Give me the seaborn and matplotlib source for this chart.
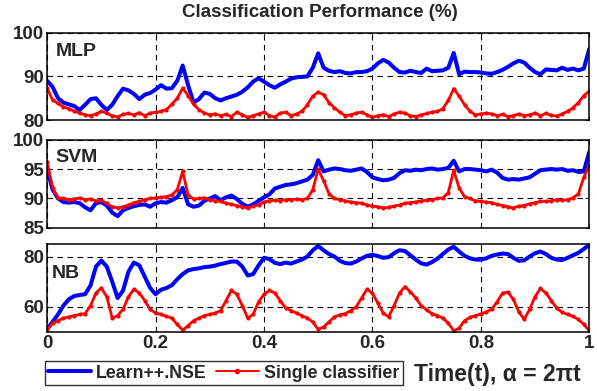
import numpy as np
import pandas as pd
import seaborn as sns
import matplotlib.pyplot as plt
from matplotlib.lines import Line2D

# time axis (101 samples from 0 to 1)
time = np.linspace(0, 1, 101)

mlp_nse = [89.0, 87.6, 85.0, 84.0, 83.6, 83.2, 82.3, 83.5, 84.8, 85.0,
           83.5, 82.3, 83.5, 85.5, 87.2, 86.8, 86.0, 84.8, 85.8, 86.2,
           87.0, 88.0, 87.2, 87.3, 89.0, 92.5, 88.0, 84.0, 84.8, 86.3,
           86.0, 85.0, 84.5, 85.0, 85.4, 85.8, 86.5, 87.5, 88.8, 89.6,
           88.8, 88.0, 87.4, 88.2, 88.8, 89.5, 89.8, 89.9, 90.0, 92.0,
           95.3, 92.0, 91.3, 91.0, 91.2, 90.8, 90.7, 91.0, 91.0, 91.2,
           91.8, 93.0, 93.8, 93.2, 92.0, 91.0, 90.9, 91.3, 91.0, 90.8,
           91.8, 91.2, 91.3, 91.4, 92.0, 95.4, 90.5, 91.1, 91.0, 91.0,
           90.9, 90.7, 90.6, 91.0, 91.5, 92.2, 93.0, 93.6, 93.2, 92.0,
           91.0, 90.5, 91.6, 91.5, 91.4, 92.0, 91.5, 91.8, 91.4, 91.8, 96.3]
mlp_single = [87.3, 84.6, 83.8, 83.0, 82.6, 82.0, 81.6, 81.2, 81.0, 81.4,
              82.0, 81.6, 81.0, 80.7, 81.3, 81.5, 81.2, 81.7, 81.0, 81.6,
              81.8, 82.0, 82.4, 83.6, 85.0, 87.3, 85.6, 83.6, 82.4, 81.6,
              81.2, 81.4, 81.0, 81.3, 80.8, 81.8, 81.2, 80.6, 81.0, 81.4,
              81.8, 81.0, 80.7, 81.6, 81.8, 81.0, 81.4, 82.0, 83.5, 85.5,
              86.4, 85.8, 84.0, 82.8, 81.8, 81.0, 81.2, 81.6, 81.8, 81.2,
              80.6, 81.0, 81.2, 80.8, 81.4, 81.8, 81.6, 81.0, 80.8, 81.2,
              81.5, 81.8, 82.0, 82.6, 84.5, 87.2, 85.5, 83.5, 82.0, 81.2,
              81.4, 81.6, 81.4, 81.0, 81.3, 80.8, 81.0, 81.4, 81.0, 81.2,
              81.6, 81.0, 81.5, 81.1, 80.9, 81.4, 82.0, 82.8, 84.0, 85.6, 86.6]

svm_nse = [95.0, 91.5, 90.0, 89.4, 89.3, 89.4, 89.2, 88.5, 88.0, 89.2,
           89.4, 88.8, 87.6, 87.0, 88.0, 88.4, 88.7, 88.9, 89.0, 88.6,
           89.2, 89.4, 89.3, 89.7, 90.2, 91.8, 89.0, 88.6, 88.8, 89.6,
           90.0, 90.4, 89.7, 90.2, 90.5, 89.9, 89.1, 88.6, 89.0, 89.6,
           90.2, 90.7, 91.7, 92.0, 92.3, 92.4, 92.6, 92.9, 93.2, 94.0,
           96.5, 94.6, 94.9, 95.1, 95.0, 94.8, 94.7, 94.9, 95.1, 94.5,
           93.6, 93.3, 93.1, 93.2, 93.5, 94.3, 94.8, 94.7, 94.9, 94.8,
           95.0, 95.1, 94.9, 95.0, 95.2, 96.4, 94.6, 95.0, 95.0, 94.9,
           94.8, 94.6, 94.9, 94.4, 93.5, 93.2, 93.3, 93.2, 93.4, 93.6,
           94.2, 94.8, 94.9, 95.0, 94.9, 95.0, 94.7, 94.8, 94.5, 94.6, 97.9]
svm_single = [96.2, 91.8, 90.1, 90.0, 89.8, 89.9, 90.1, 89.8, 89.9, 89.6,
              89.7, 89.2, 88.6, 88.4, 88.6, 88.9, 89.3, 89.5, 89.8, 90.0,
              90.1, 90.2, 90.3, 90.6, 91.5, 94.6, 90.6, 89.9, 90.0, 90.1,
              89.8, 89.6, 89.5, 89.2, 89.0, 88.8, 88.6, 88.4, 88.7, 88.9,
              89.4, 89.6, 89.7, 89.6, 89.8, 89.8, 89.9, 89.8, 90.0, 91.5,
              95.0, 93.0, 90.8, 90.0, 89.8, 89.6, 89.4, 89.3, 89.2, 88.9,
              88.7, 88.6, 88.4, 88.5, 88.7, 88.9, 89.2, 89.3, 89.4, 89.6,
              89.7, 89.8, 90.0, 90.1, 91.0, 94.8, 91.8, 90.3, 90.0, 89.6,
              89.5, 89.4, 89.3, 89.0, 88.8, 88.6, 88.4, 88.7, 88.8, 89.1,
              89.3, 89.5, 89.5, 89.6, 89.8, 89.7, 89.8, 90.1, 90.8, 93.6, 95.6]

nb_nse = [51.3, 54.0, 57.0, 60.5, 63.0, 64.3, 64.7, 65.0, 68.5, 76.0,
          78.4, 76.0, 70.0, 63.5, 66.5, 74.0, 77.6, 76.5, 72.0, 67.5,
          65.0, 66.8, 67.5, 68.6, 71.0, 73.0, 74.5, 75.0, 75.3, 75.8,
          76.0, 76.4, 77.0, 77.5, 78.0, 78.0, 76.0, 72.5, 73.0, 76.5,
          79.5, 79.0, 77.5, 77.0, 77.6, 77.2, 78.0, 78.8, 80.0, 82.5,
          84.2, 82.5, 81.0, 80.0, 78.3, 77.4, 77.2, 78.0, 79.2, 80.3,
          80.7, 80.2, 79.5, 79.8, 81.3, 82.5, 82.2, 80.5, 78.8, 77.3,
          76.8, 77.8, 79.2, 81.0, 82.8, 83.9, 82.0, 80.3, 79.3, 78.8,
          78.8, 79.3, 80.3, 80.8, 81.2, 81.0, 79.5, 78.3, 78.5, 80.0,
          81.3, 82.0, 81.0, 79.5, 78.8, 78.6, 79.5, 80.5, 81.5, 83.0, 84.7]
nb_single = [50.7, 53.5, 54.5, 55.5, 56.0, 56.5, 57.0, 57.3, 60.5, 65.5,
             67.5, 64.0, 55.5, 56.5, 59.0, 64.0, 67.0, 65.5, 62.5, 59.0,
             57.5, 57.0, 56.2, 55.5, 53.0, 50.7, 52.5, 54.5, 55.5, 56.5,
             57.0, 57.5, 58.5, 62.5, 66.5, 65.0, 60.5, 55.5, 57.0, 62.0,
             65.0, 66.5, 65.5, 62.5, 59.5, 58.5, 57.5, 56.5, 55.5, 54.0,
             51.0, 52.0, 54.0, 56.0, 56.8, 57.3, 58.5, 60.0, 63.5, 67.0,
             65.5, 61.5, 57.5, 56.0, 60.5, 65.5, 68.0, 66.0, 63.5, 60.5,
             58.8, 57.3, 56.5, 55.5, 53.5, 50.5, 51.5, 54.5, 55.8, 56.5,
             57.2, 58.0, 59.0, 62.0, 65.5, 65.8, 63.0, 58.0, 55.0, 59.0,
             64.0, 67.3, 65.5, 62.5, 59.5, 57.8, 57.0, 56.2, 55.0, 53.0, 50.5]

panel_names = ["MLP", "SVM", "NB"]
panel_ylims = [(80, 100), (85, 100), (50, 85)]
panel_yticks = [[80, 90, 100], [85, 90, 95, 100], [60, 80]]
x_ticks = [0, 0.2, 0.4, 0.6, 0.8, 1]
x_ticklabels = ["0", "0.2", "0.4", "0.6", "0.8", "1"]

sns.set_style("ticks")
plt.rcParams['font.family'] = ['Liberation Sans', 'DejaVu Sans']
plt.rcParams['font.weight'] = 'bold'

fig = plt.figure(figsize=(5.97, 3.91), dpi=100)

# axes boxes in figure fractions: [left, bottom, width, height]
boxes = [[0.079, 0.693, 0.908, 0.223],
         [0.079, 0.417, 0.908, 0.226],
         [0.079, 0.151, 0.908, 0.225]]
label_pos = [(0.015, 0.79), (0.015, 0.80), (0.008, 0.66)]

series = [(mlp_nse, mlp_single), (svm_nse, svm_single), (nb_nse, nb_single)]

for i, (nse, single) in enumerate(series):
    ax = fig.add_axes(boxes[i])
    df = pd.DataFrame({"t": time, "nse": nse, "single": single})
    sns.lineplot(data=df, x="t", y="nse", ax=ax, color="#0000ff",
                 linewidth=2.9)
    sns.lineplot(data=df, x="t", y="single", ax=ax, color="#ff0000",
                 linewidth=2.0, marker=".", markersize=6, markeredgewidth=0)
    ax.set_xlim(0, 1)
    ax.set_ylim(*panel_ylims[i])
    ax.set_yticks(panel_yticks[i])
    ax.set_xticks(x_ticks)
    ax.set_xlabel("")
    ax.set_ylabel("")
    ax.grid(True, color="black", linestyle=(0, (5, 4)), linewidth=0.8)
    ax.tick_params(direction="in", top=True, right=True, length=3,
                   labelsize=13.5, pad=2)
    if i < 2:
        ax.set_xticklabels([])
    else:
        ax.set_xticklabels(x_ticklabels)
    for sp in ax.spines.values():
        sp.set_linewidth(1.1)
        sp.set_color("black")
    ax.text(label_pos[i][0], label_pos[i][1], panel_names[i],
            transform=ax.transAxes, fontsize=14, fontweight="bold",
            va="center", ha="left")

fig.text(0.536, 0.968, "Classification Performance (%)", ha="center",
         va="center", fontsize=13.5, fontweight="bold")

handles = [Line2D([], [], color="#0000ff", linewidth=2.9),
           Line2D([], [], color="#ff0000", linewidth=1.4, marker=".",
                  markersize=6)]
leg = fig.legend(handles, ["Learn++.NSE", "Single classifier"],
                 loc="center left", bbox_to_anchor=(0.075, 0.046), ncol=2,
                 frameon=True, fancybox=False, fontsize=12.8,
                 handlelength=2.4, handletextpad=0.3, columnspacing=0.5,
                 borderpad=0.2, borderaxespad=0)
leg.get_frame().set_edgecolor("black")
leg.get_frame().set_linewidth(1.0)

fig.text(0.694, 0.042, "Time(t), \u03b1 = 2\u03c0t", ha="left", va="center",
         fontsize=16.5, fontweight="bold")

fig.savefig("out.png", dpi=100)
